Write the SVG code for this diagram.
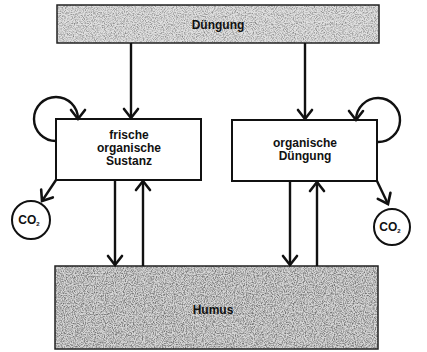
<svg xmlns="http://www.w3.org/2000/svg" width="427" height="352" viewBox="0 0 427 352">
  <style>
    .box { fill: #ffffff; stroke: #111111; stroke-width: 2; }
    .band { stroke: #222222; stroke-width: 1.5; }
    .lbl { font-family: "Liberation Sans", Arial, sans-serif; font-weight: bold; font-size: 12px; fill: #111111; text-anchor: middle; }
    .conn { fill: none; stroke: #111111; stroke-width: 2.4; marker-end: url(#head); }
    .ring { fill: #ffffff; stroke: #111111; stroke-width: 2; }
  </style>
  <defs>
    <marker id="head" markerUnits="userSpaceOnUse" viewBox="-10 -8 12 16" refX="0" refY="0" markerWidth="12" markerHeight="16" orient="auto" overflow="visible">
      <path d="M-9,-7 L0,0 L-9,7" fill="none" stroke="#111111" stroke-width="2.6" stroke-linecap="round" stroke-linejoin="miter"/>
    </marker>
    <!-- stippled grey fill for the two wide bands: grey specks over a pale base -->
    <filter id="grain-light" x="0" y="0" width="100%" height="100%" color-interpolation-filters="sRGB">
      <feTurbulence type="fractalNoise" baseFrequency="0.9" numOctaves="2" seed="7" result="n"/>
      <feColorMatrix in="n" type="matrix" values="0 0 0 0 0.5  0 0 0 0 0.5  0 0 0 0 0.5  2.2 0 0 0 -0.9" result="dots"/>
      <feFlood flood-color="#e0e0e0" result="base"/>
      <feComposite in="dots" in2="base" operator="over" result="tex"/>
      <feComposite in="tex" in2="SourceGraphic" operator="in"/>
    </filter>
    <filter id="grain-dark" x="0" y="0" width="100%" height="100%" color-interpolation-filters="sRGB">
      <feTurbulence type="fractalNoise" baseFrequency="0.9" numOctaves="2" seed="3" result="n"/>
      <feColorMatrix in="n" type="matrix" values="0 0 0 0 0.45  0 0 0 0 0.45  0 0 0 0 0.45  2.4 0 0 0 -0.9" result="dots"/>
      <feFlood flood-color="#d6d6d6" result="base"/>
      <feComposite in="dots" in2="base" operator="over" result="tex"/>
      <feComposite in="tex" in2="SourceGraphic" operator="in"/>
    </filter>
  </defs>

  <!-- source band: Düngung -->
  <g id="duengung">
    <rect x="57" y="5" width="322" height="38" fill="#000" filter="url(#grain-light)"/>
    <rect x="57" y="5" width="322" height="38" fill="none" class="band"/>
    <text class="lbl" x="218" y="29">Düngung</text>
  </g>

  <!-- fresh organic matter -->
  <g id="frische-substanz">
    <rect class="box" x="56" y="119" width="145" height="61"/>
    <text class="lbl" x="129" y="139">frische</text>
    <text class="lbl" x="129" y="152">organische</text>
    <text class="lbl" x="129" y="165">Sustanz</text>
  </g>

  <!-- organic fertiliser -->
  <g id="organische-duengung">
    <rect class="box" x="232" y="120" width="145" height="61"/>
    <text class="lbl" x="305" y="147">organische</text>
    <text class="lbl" x="305" y="160">Düngung</text>
  </g>

  <!-- humus pool -->
  <g id="humus">
    <rect x="55" y="266" width="323" height="83" fill="#000" filter="url(#grain-dark)"/>
    <rect x="55" y="266" width="323" height="83" fill="none" class="band"/>
    <text class="lbl" x="213" y="314">Humus</text>
  </g>

  <!-- CO2 losses -->
  <g id="co2-links">
    <circle class="ring" cx="31" cy="220" r="19"/>
    <text class="lbl" x="29" y="224" font-size="11">CO<tspan font-size="6" dy="2">2</tspan></text>
  </g>
  <g id="co2-rechts">
    <circle class="ring" cx="392" cy="227" r="18"/>
    <text class="lbl" x="390" y="231" font-size="11">CO<tspan font-size="6" dy="2">2</tspan></text>
  </g>

  <!-- flows -->
  <g id="connectors">
    <path class="conn" d="M131,43 L131,118"/>
    <path class="conn" d="M305,43 L305,119"/>
    <path class="conn" d="M56,141 A22,22 0 1 1 78,119"/>
    <path class="conn" d="M377,142 A22,22 0 1 0 356,120"/>
    <path class="conn" d="M56,180 L42,201"/>
    <path class="conn" d="M377,181 L388,204"/>
    <path class="conn" d="M115,180 L115,265"/>
    <path class="conn" d="M143,266 L143,181"/>
    <path class="conn" d="M290,181 L290,265"/>
    <path class="conn" d="M317,266 L317,182"/>
  </g>
</svg>
